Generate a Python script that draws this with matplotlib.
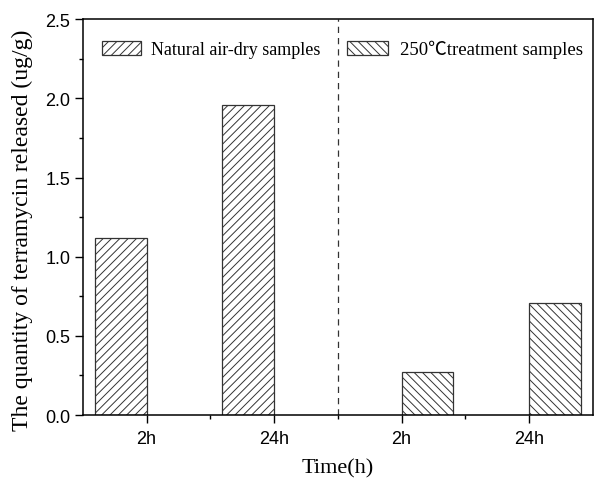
import matplotlib
matplotlib.use("Agg")
import matplotlib.pyplot as plt
import numpy as np
from matplotlib.patches import Patch
from matplotlib.ticker import MultipleLocator, FixedLocator

categories = ["2h", "24h", "2h", "24h"]
natural = [1.12, 1.96, 0.0, 0.0]
treated = [0.0, 0.0, 0.27, 0.71]
legend_labels = ["Natural air-dry samples", "250\u2103treatment samples"]

plt.rcParams['hatch.linewidth'] = 0.7
fig = plt.figure(figsize=(6.0, 4.81), dpi=100)
ax = fig.add_axes([0.138, 0.135, 0.850, 0.823])

x = np.arange(1, len(categories) + 1)
w = 0.405
ec = "#333333"
ax.bar(x[:2] - w / 2, natural[:2], width=w, facecolor="white", edgecolor=ec,
       hatch="////", linewidth=0.9)
ax.bar(x[2:] + w / 2, treated[2:], width=w, facecolor="white", edgecolor=ec,
       hatch="\\\\\\\\", linewidth=0.9)

ax.axvline(2.5, color=ec, linestyle=(0, (5, 4)), linewidth=0.9)

ax.set_xlim(0.5, 4.5)
ax.set_ylim(0, 2.5)
ax.set_xticks(x)
ax.set_xticklabels(categories, fontname="Liberation Sans", fontsize=13)
ax.xaxis.set_minor_locator(FixedLocator([1.5, 2.5, 3.5]))
ax.yaxis.set_major_locator(MultipleLocator(0.5))
ax.yaxis.set_minor_locator(MultipleLocator(0.25))
ax.set_yticklabels([f"{v:.1f}" for v in ax.get_yticks()], fontname="Liberation Sans", fontsize=13)
ax.tick_params(axis="both", which="major", direction="out", length=6, width=1, pad=3)
ax.tick_params(axis="x", which="major", pad=5)
ax.tick_params(axis="both", which="minor", direction="out", length=3, width=1)
for s in ax.spines.values():
    s.set_linewidth(1.1)

ax.set_xlabel("Time(h)", fontname="Liberation Serif", fontsize=16, labelpad=8)
ax.set_ylabel("The quantity of terramycin released (ug/g)", fontname="Liberation Serif",
              fontsize=17)
ax.yaxis.set_label_coords(-0.097, 0.47)

h1 = Patch(facecolor="white", edgecolor=ec, hatch="////", linewidth=0.9)
h2 = Patch(facecolor="white", edgecolor=ec, hatch="\\\\\\\\", linewidth=0.9)
common = dict(frameon=False, handlelength=2.2, handleheight=0.83,
              borderaxespad=0, borderpad=0, loc="center left")
leg1 = ax.legend([h1], [legend_labels[0]], bbox_to_anchor=(0.037, 0.924), handletextpad=0.55,
                 prop={"family": "Liberation Serif", "size": 13}, **common)
ax.add_artist(leg1)
ax.legend([h2], [legend_labels[1]], bbox_to_anchor=(0.518, 0.924), handletextpad=0.65,
          prop={"family": ["Liberation Serif", "Noto Sans CJK SC"], "size": 13.5}, **common)

fig.savefig("out.png", dpi=100)
